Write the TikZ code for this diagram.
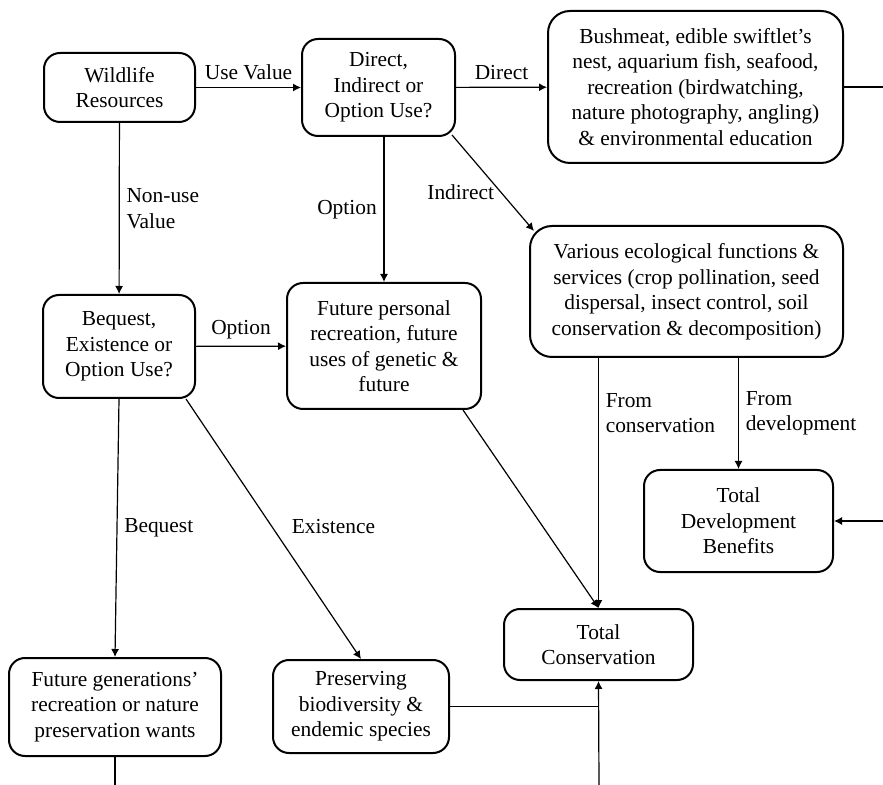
\documentclass[tikz,border=0pt]{standalone}
\usepackage{fontspec}
\setmainfont{Liberation Serif}
\usetikzlibrary{arrows.meta,calc}

\tikzset{
  box/.style={draw, line width=1pt, rounded corners=8pt, align=center, inner sep=2pt},
  bigbox/.style={box, rounded corners=11pt},
  conn/.style={line width=0.6pt},
  arr/.style={conn, -{Latex[length=4pt,width=4pt]}}
}

\begin{document}
\begin{tikzpicture}[x=0.5pt, y=-0.5pt, font=\fontsize{10.7}{12.75}\selectfont]
\useasboundingbox (0,0) rectangle (883,785);
% boxes
\node[box, minimum width=75.5pt, minimum height=34.5pt] (wild) at (119.5,87.5) {Wildlife\\Resources};
\node[box, minimum width=76.5pt, minimum height=48.5pt] (which) at (378.5,87.5) {Direct,\\Indirect or\\Option Use?};
\node[bigbox, minimum width=147.5pt, minimum height=76pt] (direct) at (695.5,87) {Bushmeat, edible swiftlet’s\\nest, aquarium fish, seafood,\\recreation (birdwatching,\\nature photography, angling)\\\& environmental education};
\node[bigbox, minimum width=156.5pt, minimum height=65.5pt] (various) at (686.5,291.5) {Various ecological functions \&\\services (crop pollination, seed\\dispersal, insect control, soil\\conservation \& decomposition)};
\node[box, minimum width=76pt, minimum height=51.5pt] (bequestq) at (119,346.5) {Bequest,\\Existence or\\Option Use?};
\node[box, minimum width=97pt, minimum height=63pt] (future) at (384,346) {Future personal\\recreation, future\\uses of genetic \&\\future};
\node[box, minimum width=94.5pt, minimum height=51pt] (totdev) at (738.5,521) {Total\\Development\\Benefits};
\node[box, minimum width=94.5pt, minimum height=35.5pt] (totcons) at (598.5,644.5) {Total\\Conservation};
\node[box, minimum width=106pt, minimum height=49pt] (futgen) at (115,707) {Future generations’\\recreation or nature\\preservation wants};
\node[box, minimum width=88pt, minimum height=46.5pt] (preserve) at (361,706.5) {Preserving\\biodiversity \&\\endemic species};
% loose ends at the page edge
\coordinate (rimDirect) at (883,87);
\coordinate (rimDev) at (883,521);
\coordinate (baseCons) at (599,785);
\coordinate (baseGen) at (115,785);
% connectors
\draw[arr] (wild) -- node[above] {Use Value} (which);
\draw[arr] (which) -- node[above] {Direct} (direct);
\draw[conn] (direct.east) -- (rimDirect);
\draw[arr] (future.north |- which.south) -- node[left] {Option} (future.north);
\draw[arr] ($(which.south east)+(-4,-2)$) -- node[left, pos=0.6] {Indirect} ($(various.north west)+(5,6)$);
\draw[arr] (wild) -- node[right, align=left] {Non-use\\Value} (bequestq);
\draw[arr] (bequestq) -- node[above] {Option} (future);
\draw[arr] (bequestq.south) -- node[right] {Bequest} (futgen.north);
\draw[arr] ($(bequestq.south east)+(-10,0)$) -- node[right=6.4pt, pos=0.49] {Existence} (preserve.north);
\draw[arr] ($(future.south east)+(-19,0)$) -- (totcons.north);
\draw[arr] (totcons.north |- various.south) -- node[right, align=left, pos=0.22] {From\\conservation} (totcons.north);
\draw[arr] (totdev.north |- various.south) -- node[right, align=left] {From\\development} (totdev.north);
\draw[arr] (rimDev) -- (totdev.east);
\draw[conn] (preserve.east) -- (preserve.east -| baseCons);
\draw[arr] (baseCons) -- (totcons.south);
\draw[conn] (futgen.south) -- (baseGen);
\end{tikzpicture}
\end{document}
